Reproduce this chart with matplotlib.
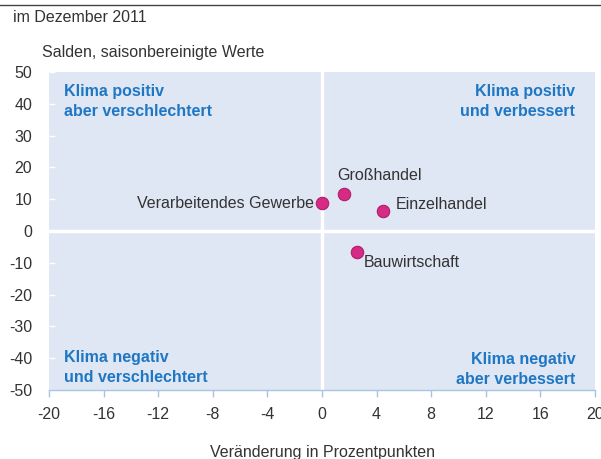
import matplotlib
matplotlib.use("Agg")
import matplotlib.pyplot as plt

plt.rcParams["font.family"] = ["Liberation Sans", "DejaVu Sans"]

# data
sectors = ["Verarbeitendes Gewerbe", "Großhandel", "Einzelhandel", "Bauwirtschaft"]
change = [0.0, 1.6, 4.5, 2.6]        # Veränderung in Prozentpunkten
level = [8.8, 11.6, 6.3, -6.6]        # Salden
# label offsets in pixels (dx, dy) and alignment
label_pos = [(-8, 0, "right"), (-7, 19, "left"), (12, 6, "left"), (6, -11, "left")]

x_ticks = [-20, -16, -12, -8, -4, 0, 4, 8, 12, 16, 20]
y_ticks = [50, 40, 30, 20, 10, 0, -10, -20, -30, -40, -50]

_SHADE = "#dfe6f4"
_BLUE = "#1f77c4"
_AXIS = "#a9c4e0"
_TEXT = "#333333"
_DOT = "#d62a85"
FS = 11.5

fig = plt.figure(figsize=(6.01, 4.59), dpi=100)
ax = fig.add_axes([49 / 601, 1 - 390 / 459, 546 / 601, 318 / 459])
ax.set_facecolor(_SHADE)

ax.set_xlim(-20, 20)
ax.set_ylim(-50, 50)

# white cross through the origin
ax.axvline(0, color="white", linewidth=2.5, zorder=1, clip_on=False, ymin=-0.015)
ax.axhline(0, color="white", linewidth=2.5, zorder=1)

ax.scatter(change, level, s=80, color=_DOT, edgecolor="#b01f68", linewidth=0.8, zorder=3)
for x, y, name, (dx, dy, ha) in zip(change, level, sectors, label_pos):
    ax.annotate(name, (x, y), xytext=(dx, dy), textcoords="offset pixels",
                ha=ha, va="center", fontsize=FS, color=_TEXT, zorder=4)

# quadrant captions
qkw = dict(transform=ax.transAxes, color=_BLUE, fontsize=FS, fontweight="bold",
           linespacing=1.4)
ax.text(0.027, 0.963, "Klima positiv\naber verschlechtert", ha="left", va="top", **qkw)
ax.text(0.964, 0.963, "Klima positiv\nund verbessert", ha="right", va="top", **qkw)
ax.text(0.027, 0.016, "Klima negativ\nund verschlechtert", ha="left", va="bottom", **qkw)
ax.text(0.964, 0.009, "Klima negativ\naber verbessert", ha="right", va="bottom", **qkw)

ax.set_xticks(x_ticks)
ax.set_xticklabels([str(v) for v in x_ticks])
ax.set_yticks(y_ticks)
ax.set_yticklabels([str(v) for v in y_ticks])
ax.tick_params(axis="x", direction="out", length=5, width=1, color=_AXIS,
               labelcolor=_TEXT, labelsize=FS, pad=7)
ax.tick_params(axis="y", direction="in", length=4, width=1, color="white",
               labelcolor=_TEXT, labelsize=FS, pad=12)
for side in ["top", "right", "left"]:
    ax.spines[side].set_visible(False)
ax.spines["bottom"].set_color(_AXIS)
ax.spines["bottom"].set_linewidth(1)

ax.set_xlabel("Veränderung in Prozentpunkten", fontsize=FS, color=_TEXT, labelpad=17)

# header
fig.add_artist(plt.Line2D([0, 1], [1 - 5 / 459, 1 - 5 / 459], color="#444444", linewidth=1))
fig.text(13 / 601, 1 - 18 / 459, "im Dezember 2011", fontsize=FS, color=_TEXT, va="center")
fig.text(42 / 601, 1 - 52 / 459, "Salden, saisonbereinigte Werte", fontsize=FS,
         color=_TEXT, va="center")

fig.savefig("out.png", dpi=100)
